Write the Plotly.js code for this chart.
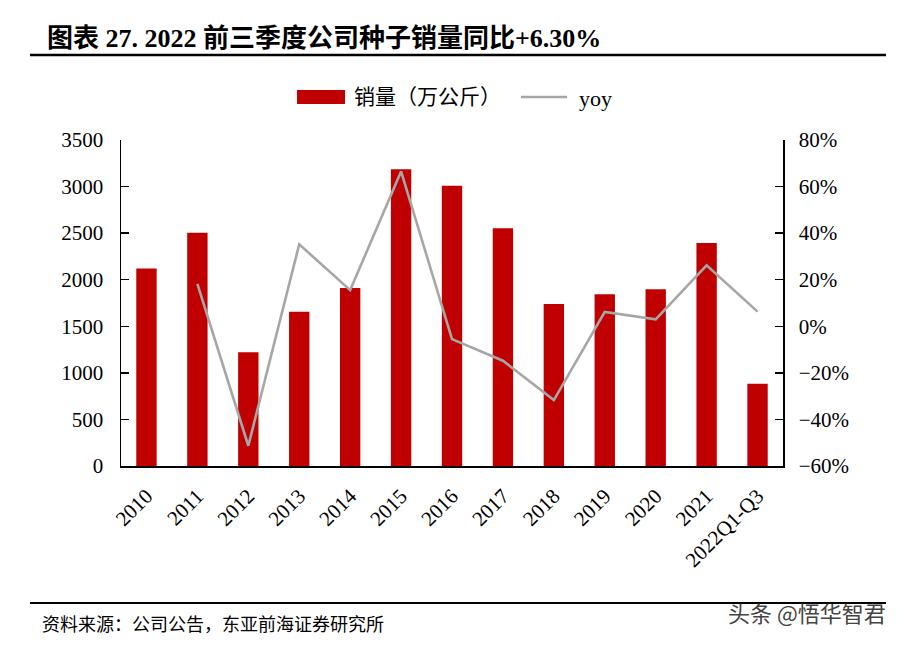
<!DOCTYPE html>
<html>
<head>
<meta charset="utf-8">
<script src="https://cdn.plot.ly/plotly-3.0.1.min.js"></script>
<style>html,body{margin:0;padding:0;background:#fff;}#chart{width:907px;height:645px;}</style>
</head>
<body>
<div id="chart"></div>
<script>
const categories = ["2010","2011","2012","2013","2014","2015","2016","2017","2018","2019","2020","2021","2022Q1-Q3"];
const sales = [2120, 2505, 1220, 1655, 1910, 3185, 3010, 2552, 1740, 1844, 1898, 2395, 882];
const yoy = [null, 0.182, -0.513, 0.352, 0.155, 0.665, -0.055, -0.148, -0.317, 0.062, 0.030, 0.262, 0.063];
const leftTicks = [0,500,1000,1500,2000,2500,3000,3500];
const rightTicks = [-0.6,-0.4,-0.2,0,0.2,0.4,0.6,0.8];

const serif = "Liberation Serif, Times New Roman, Noto Sans CJK SC, serif";
const cjk = "Liberation Serif, Noto Sans CJK SC, sans-serif";

const traces = [
  {type:'bar', x:categories, y:sales, name:'销量（万公斤）', marker:{color:'#C00000'}, width:0.4, yaxis:'y', showlegend:false, hoverinfo:'x+y'},
  {type:'scatter', mode:'lines', x:categories, y:yoy, name:'yoy', line:{color:'#A6A6A6', width:2.6}, yaxis:'y2', showlegend:false, connectgaps:false}
];

const layout = {
  width:907, height:645,
  paper_bgcolor:'#fff', plot_bgcolor:'#fff',
  margin:{l:121, r:124, t:140, b:179},
  bargap:0.6,
  xaxis:{type:'category', showline:true, linecolor:'#000', linewidth:1.5, ticks:'', tickangle:-45,
    tickfont:{family:serif, size:21, color:'#000'}, showgrid:false, zeroline:false, ticklabelstandoff:8, fixedrange:true},
  yaxis:{range:[0,3500], tickvals:leftTicks, showline:true, linecolor:'#000', linewidth:1.5, ticks:'inside', ticklen:8, tickwidth:1.5, tickcolor:'#000',
    tickfont:{family:serif, size:21, color:'#000'}, showgrid:false, zeroline:false, ticklabelstandoff:12},
  yaxis2:{overlaying:'y', side:'right', range:[-0.6,0.8], tickvals:rightTicks, tickformat:'.0%', showline:true, linecolor:'#000', linewidth:1.5,
    ticks:'inside', ticklen:8, tickwidth:1.5, tickcolor:'#000', tickfont:{family:serif, size:21, color:'#000'}, showgrid:false, zeroline:false, ticklabelstandoff:10},
  showlegend:false,
  shapes:[
    {type:'line', xref:'paper', yref:'paper', x0:-0.1375, x1:1.1556, y0:(466-55)/326, y1:(466-55)/326, line:{color:'#000', width:2.5}},
    {type:'line', xref:'paper', yref:'paper', x0:-0.1375, x1:1.1556, y0:(466-603)/326, y1:(466-603)/326, line:{color:'#000', width:2}},
    {type:'rect', xref:'paper', yref:'paper', x0:(297-121)/662, x1:(345-121)/662, y0:(466-104)/326, y1:(466-90)/326, fillcolor:'#C00000', line:{width:0}},
    {type:'line', xref:'paper', yref:'paper', x0:(521-121)/662, x1:(567-121)/662, y0:(466-97)/326, y1:(466-97)/326, line:{color:'#A6A6A6', width:2.6}}
  ],
  annotations:[
    {text:'<b>图表 27. 2022 前三季度公司种子销量同比+6.30%</b>', xref:'paper', yref:'paper', x:(45-121)/662, y:(466-38)/326, xanchor:'left', yanchor:'middle', showarrow:false,
      font:{family:cjk, size:26, color:'#000'}},
    {text:'销量（万公斤）', xref:'paper', yref:'paper', x:(352-121)/662, y:(466-97)/326, xanchor:'left', yanchor:'middle', showarrow:false,
      font:{family:cjk, size:21, color:'#000'}},
    {text:'yoy', xref:'paper', yref:'paper', x:(577-121)/662, y:(466-98)/326, xanchor:'left', yanchor:'middle', showarrow:false,
      font:{family:serif, size:22, color:'#000'}},
    {text:'资料来源：公司公告，东亚前海证券研究所', xref:'paper', yref:'paper', x:(40-121)/662, y:(466-625)/326, xanchor:'left', yanchor:'middle', showarrow:false,
      font:{family:cjk, size:18, color:'#000'}},
    {text:'头条 @悟华智君', xref:'paper', yref:'paper', x:(888-121)/662, y:(466-612)/326, xanchor:'right', yanchor:'middle', showarrow:false,
      font:{family:'Noto Sans CJK SC, sans-serif', size:22, color:'#444'}}
  ]
};

Plotly.newPlot('chart', traces, layout, {displayModeBar:false, staticPlot:true});
</script>
</body>
</html>
